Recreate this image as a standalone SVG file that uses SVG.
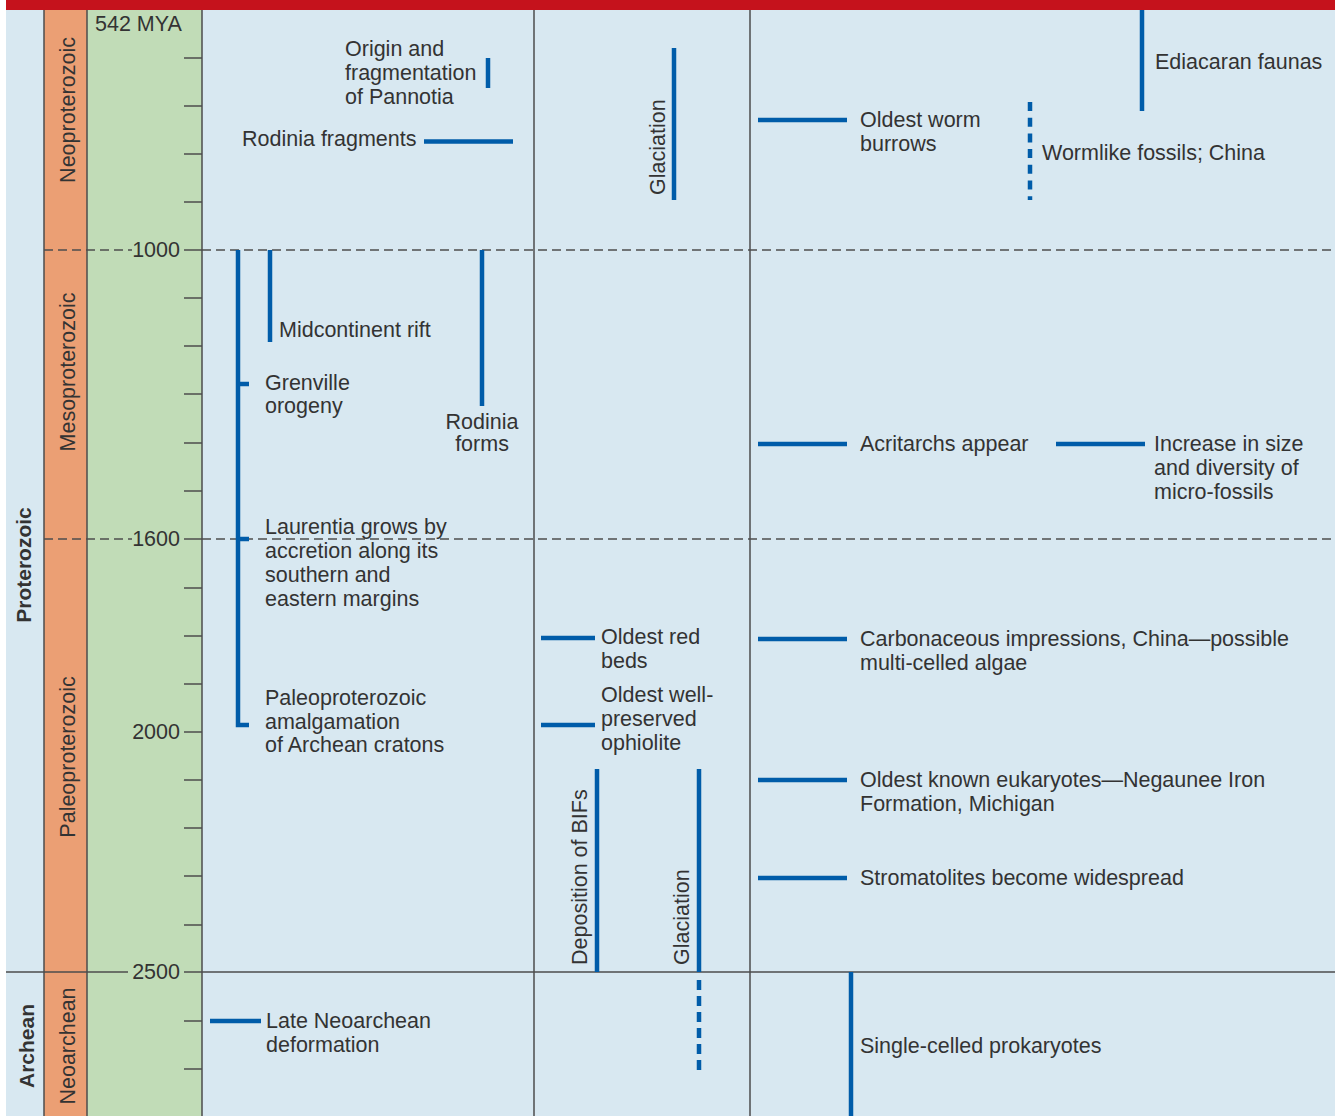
<svg xmlns="http://www.w3.org/2000/svg" width="1337" height="1116" viewBox="0 0 1337 1116">
<style>
text{font-family:"Liberation Sans",Arial,sans-serif;font-size:21.5px;fill:#333}
.b{font-weight:bold;font-size:21px}
.num{text-anchor:end}
.grid{stroke:#4d4d4d;stroke-width:1.5;fill:none}
.dash{stroke:#4d4d4d;stroke-width:1.4;stroke-dasharray:9 5;fill:none}
.ev{stroke:#005ca9;stroke-width:4.5;fill:none}
.evd{stroke:#005ca9;stroke-width:4.5;fill:none;stroke-dasharray:10 6}
.tick{stroke:#4d4d4d;stroke-width:1.5}
</style>
<g id="background">
<rect x="6" y="0" width="1329" height="1116" fill="#d8e8f1"/>
<rect x="44" y="10" width="43" height="1106" fill="#eb9f74"/>
<rect x="87" y="10" width="115" height="1106" fill="#c1dcb7"/>
<rect x="6" y="0" width="1329" height="10" fill="#c5121c"/>
</g>
<g id="grid">
<line class="grid" x1="44" y1="10" x2="44" y2="1116"/>
<line class="grid" x1="87" y1="10" x2="87" y2="1116"/>
<line class="grid" x1="202" y1="10" x2="202" y2="1116"/>
<line class="grid" x1="534" y1="10" x2="534" y2="1116"/>
<line class="grid" x1="750" y1="10" x2="750" y2="1116"/>
<line class="dash" x1="44" y1="250" x2="132" y2="250"/>
<line class="dash" x1="202" y1="250" x2="1335" y2="250"/>
<line class="dash" x1="44" y1="539" x2="132" y2="539"/>
<line class="dash" x1="202" y1="539" x2="1335" y2="539"/>
<line class="grid" x1="6" y1="972" x2="128" y2="972"/>
<line class="grid" x1="184" y1="972" x2="1335" y2="972"/>
</g>
<g id="ticks">
<line class="tick" x1="184" y1="58" x2="202" y2="58"/>
<line class="tick" x1="184" y1="106" x2="202" y2="106"/>
<line class="tick" x1="184" y1="154" x2="202" y2="154"/>
<line class="tick" x1="184" y1="202" x2="202" y2="202"/>
<line class="tick" x1="184" y1="250" x2="202" y2="250"/>
<line class="tick" x1="184" y1="298" x2="202" y2="298"/>
<line class="tick" x1="184" y1="346" x2="202" y2="346"/>
<line class="tick" x1="184" y1="394" x2="202" y2="394"/>
<line class="tick" x1="184" y1="443" x2="202" y2="443"/>
<line class="tick" x1="184" y1="491" x2="202" y2="491"/>
<line class="tick" x1="184" y1="539" x2="202" y2="539"/>
<line class="tick" x1="184" y1="588" x2="202" y2="588"/>
<line class="tick" x1="184" y1="636" x2="202" y2="636"/>
<line class="tick" x1="184" y1="684" x2="202" y2="684"/>
<line class="tick" x1="184" y1="732" x2="202" y2="732"/>
<line class="tick" x1="184" y1="780" x2="202" y2="780"/>
<line class="tick" x1="184" y1="828" x2="202" y2="828"/>
<line class="tick" x1="184" y1="876" x2="202" y2="876"/>
<line class="tick" x1="184" y1="925" x2="202" y2="925"/>
<line class="tick" x1="184" y1="1021" x2="202" y2="1021"/>
<line class="tick" x1="184" y1="1069" x2="202" y2="1069"/>
</g>
<g id="axis-labels">
<text x="95" y="31">542 MYA</text>
<text class="num" x="180" y="257">1000</text>
<text class="num" x="180" y="546">1600</text>
<text class="num" x="180" y="739">2000</text>
<text class="num" x="180" y="979">2500</text>
</g>
<g id="eons">
<text class="b" text-anchor="middle" transform="translate(31,565) rotate(-90)">Proterozoic</text>
<text class="b" text-anchor="middle" transform="translate(34,1046) rotate(-90)">Archean</text>
</g>
<g id="eras">
<text text-anchor="middle" transform="translate(75,110) rotate(-90)">Neoproterozoic</text>
<text text-anchor="middle" transform="translate(75,372) rotate(-90)">Mesoproterozoic</text>
<text text-anchor="middle" transform="translate(75,757) rotate(-90)">Paleoproterozoic</text>
<text text-anchor="middle" transform="translate(75,1046) rotate(-90)">Neoarchean</text>
</g>
<g id="connectors">
<line class="ev" x1="488" y1="58" x2="488" y2="88"/>
<line class="ev" x1="424" y1="141.5" x2="513" y2="141.5"/>
<path class="ev" d="M238,250 V725 H249"/>
<line class="ev" x1="238" y1="384" x2="249" y2="384"/>
<line class="ev" x1="238" y1="539" x2="249" y2="539"/>
<line class="ev" x1="270" y1="250" x2="270" y2="342"/>
<line class="ev" x1="482" y1="250" x2="482" y2="406"/>
<line class="ev" x1="210" y1="1021" x2="261" y2="1021"/>
<line class="ev" x1="674" y1="48" x2="674" y2="200"/>
<line class="ev" x1="541" y1="638" x2="595" y2="638"/>
<line class="ev" x1="541" y1="725" x2="595" y2="725"/>
<line class="ev" x1="597" y1="769" x2="597" y2="972"/>
<line class="ev" x1="699" y1="769" x2="699" y2="972"/>
<line class="evd" x1="699" y1="980" x2="699" y2="1070"/>
<line class="ev" x1="758" y1="120" x2="847" y2="120"/>
<line class="ev" x1="1142" y1="10" x2="1142" y2="111"/>
<line class="ev" x1="1030" y1="102" x2="1030" y2="200" style="stroke-dasharray:9 6.7"/>
<line class="ev" x1="758" y1="444" x2="847" y2="444"/>
<line class="ev" x1="1056" y1="444" x2="1145" y2="444"/>
<line class="ev" x1="758" y1="639" x2="847" y2="639"/>
<line class="ev" x1="758" y1="780" x2="847" y2="780"/>
<line class="ev" x1="758" y1="878" x2="847" y2="878"/>
<line class="ev" x1="851" y1="972" x2="851" y2="1116"/>
</g>
<g id="pannotia"><text x="345" y="56">Origin and</text><text x="345" y="80">fragmentation</text><text x="345" y="104">of Pannotia</text></g>
<g id="rodinia-fragments"><text x="242" y="146">Rodinia fragments</text></g>
<g id="midcontinent-rift"><text x="279" y="337">Midcontinent rift</text></g>
<g id="grenville"><text x="265" y="390">Grenville</text><text x="265" y="413">orogeny</text></g>
<g id="rodinia-forms"><text x="482" y="429" text-anchor="middle">Rodinia</text><text x="482" y="451" text-anchor="middle">forms</text></g>
<g id="laurentia"><text x="265" y="534">Laurentia grows by</text><text x="265" y="558">accretion along its</text><text x="265" y="582">southern and</text><text x="265" y="606">eastern margins</text></g>
<g id="amalgamation"><text x="265" y="705">Paleoproterozoic</text><text x="265" y="729">amalgamation</text><text x="265" y="752">of Archean cratons</text></g>
<g id="late-neoarchean"><text x="266" y="1028">Late Neoarchean</text><text x="266" y="1052">deformation</text></g>
<g id="glaciation-upper"><text transform="translate(665,195) rotate(-90)">Glaciation</text></g>
<g id="red-beds"><text x="601" y="644">Oldest red</text><text x="601" y="668">beds</text></g>
<g id="ophiolite"><text x="601" y="702">Oldest well-</text><text x="601" y="726">preserved</text><text x="601" y="750">ophiolite</text></g>
<g id="bifs"><text transform="translate(587,965) rotate(-90)">Deposition of BIFs</text></g>
<g id="glaciation-lower"><text transform="translate(689,965) rotate(-90)">Glaciation</text></g>
<g id="worm-burrows"><text x="860" y="127">Oldest worm</text><text x="860" y="151">burrows</text></g>
<g id="ediacaran"><text x="1155" y="69">Ediacaran faunas</text></g>
<g id="wormlike"><text x="1042" y="160">Wormlike fossils; China</text></g>
<g id="acritarchs"><text x="860" y="451">Acritarchs appear</text></g>
<g id="microfossils"><text x="1154" y="451">Increase in size</text><text x="1154" y="475">and diversity of</text><text x="1154" y="499">micro-fossils</text></g>
<g id="carbonaceous"><text x="860" y="646">Carbonaceous impressions, China—possible</text><text x="860" y="670">multi-celled algae</text></g>
<g id="eukaryotes"><text x="860" y="787">Oldest known eukaryotes—Negaunee Iron</text><text x="860" y="811">Formation, Michigan</text></g>
<g id="stromatolites"><text x="860" y="885">Stromatolites become widespread</text></g>
<g id="prokaryotes"><text x="860" y="1053">Single-celled prokaryotes</text></g>
</svg>
